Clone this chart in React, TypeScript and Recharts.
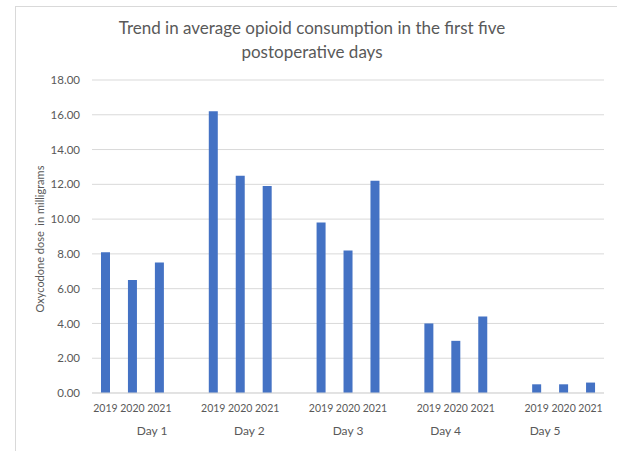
import React from 'react';
import { BarChart, Bar, XAxis, YAxis, CartesianGrid } from 'recharts';

const days = ['Day 1', 'Day 2', 'Day 3', 'Day 4', 'Day 5'];
const years = ['2019', '2020', '2021'];
const dose2019 = [8.1, 16.2, 9.8, 4.0, 0.5];
const dose2020 = [6.5, 12.5, 8.2, 3.0, 0.5];
const dose2021 = [7.5, 11.9, 12.2, 4.4, 0.6];
const yTicks = [0, 2, 4, 6, 8, 10, 12, 14, 16, 18];

// outer day labels, in bar-slot index units (they don't sit exactly on the bars in the original)
const dayTicks = [1.73, 5.34, 9, 12.62, 16.31];

const series = [dose2019, dose2020, dose2021];
const data: { year: string; dose: number | null }[] = [];
days.forEach((d, i) => {
    years.forEach((y, j) => data.push({ year: y, dose: series[j][i] }));
    if (i < days.length - 1) data.push({ year: '', dose: null });
});

const FONT = 'Lato, "Open Sans", sans-serif';
const GREY = '#595959';

const YearTick = (props: any) => {
    const { x, y, payload } = props;
    return (
        <text x={x} y={y} dy={17} textAnchor="middle" fill={GREY} fontSize={10.5} fontFamily={FONT}>
            {payload.value}
        </text>
    );
};

const DayTick = (props: any) => {
    const { x, y, index } = props;
    return (
        <text x={x} y={y} dy={18} textAnchor="middle" fill={GREY} fontSize={12} fontFamily={FONT}>
            {days[index]}
        </text>
    );
};

export default function App() {
    const slotPad = 512 / data.length / 2;
    return (
        <div style={{ position: 'absolute', left: 0, top: 0, width: 617, height: 451, overflow: 'hidden', background: '#fff' }}>
            <div style={{ position: 'absolute', left: 15, top: 6, width: 640, height: 480, border: '1px solid #d9d9d9' }} />
            <div
                style={{
                    position: 'absolute', left: 15, width: 594, top: 16, textAlign: 'center',
                    fontFamily: FONT, fontSize: 17, lineHeight: '24px', color: GREY,
                }}
            >
                Trend in average opioid consumption in the first five
                <br />
                postoperative days
            </div>
            <div style={{ position: 'absolute', left: 0, top: 0 }}>
                <BarChart width={617} height={451} data={data} margin={{ top: 80, right: 13, bottom: 0, left: 32 }} barSize={9}>
                    <CartesianGrid vertical={false} stroke="#d9d9d9" xAxisId="a" />
                    <XAxis
                        xAxisId="a"
                        dataKey="year"
                        interval={0}
                        height={22}
                        tickLine={false}
                        tickSize={0}
                        axisLine={{ stroke: '#d9d9d9' }}
                        tick={<YearTick />}
                    />
                    <XAxis
                        xAxisId="b"
                        type="number"
                        domain={[0, data.length - 1]}
                        allowDataOverflow
                        padding={{ left: slotPad, right: slotPad }}
                        ticks={dayTicks}
                        interval={0}
                        height={36}
                        tickLine={false}
                        tickSize={0}
                        axisLine={false}
                        tick={<DayTick />}
                    />
                    <YAxis
                        width={60}
                        domain={[0, 18]}
                        ticks={yTicks}
                        interval={0}
                        axisLine={false}
                        tickLine={false}
                        tickFormatter={(v: number) => v.toFixed(2)}
                        tick={{ fill: GREY, fontSize: 11.5, fontFamily: FONT }}
                        tickMargin={6}
                    />
                    <Bar xAxisId="a" dataKey="dose" fill="#4472C4" isAnimationActive={false} />
                </BarChart>
            </div>
            <div style={{ position: 'absolute', left: 40, top: 239, width: 0, height: 0 }}>
                <div
                    style={{
                        position: 'absolute', left: 0, top: 0, transform: 'translate(-50%, -50%) rotate(-90deg)',
                        whiteSpace: 'nowrap', fontFamily: FONT, fontSize: 11, lineHeight: '14px', color: GREY,
                    }}
                >
                    Oxycodone dose&nbsp; in milligrams
                </div>
            </div>
        </div>
    );
}
